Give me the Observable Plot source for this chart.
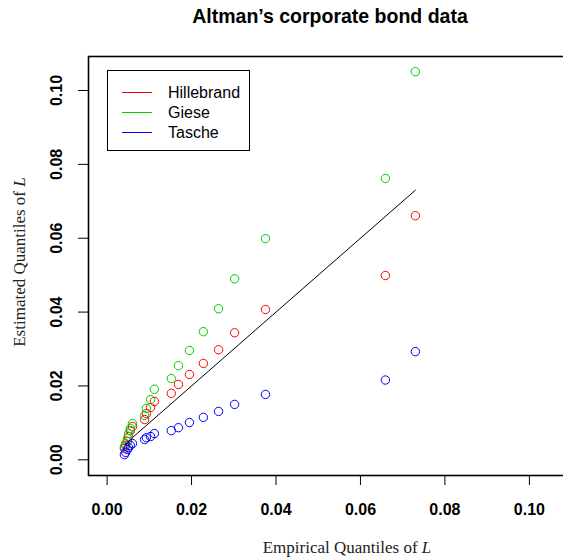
<!DOCTYPE html>
<html><head><meta charset="utf-8">
<script src="https://cdn.jsdelivr.net/npm/d3@7"></script>
<script src="https://cdn.jsdelivr.net/npm/@observablehq/plot@0.6"></script>
<style>
html,body{margin:0;padding:0;background:#fff;overflow:hidden;}
#wrap{position:relative;width:563px;height:559px;overflow:hidden;background:#fff;}
#wrap svg{overflow:hidden !important;display:block;}
.ov{position:absolute;white-space:nowrap;line-height:1;}
</style></head><body>
<div id="wrap"></div>
<script>
// ---- data ----
const empirical  = [0.0041, 0.0044, 0.0048, 0.0051, 0.0055, 0.0060, 0.0089, 0.0093, 0.0103, 0.0112,
                    0.0152, 0.0169, 0.0195, 0.0228, 0.0264, 0.0302, 0.0375, 0.0659, 0.0730];
const hillebrand = [0.0031, 0.0039, 0.0050, 0.0063, 0.0079, 0.0090, 0.0109, 0.0125, 0.0142, 0.0158,
                    0.0180, 0.0204, 0.0231, 0.0261, 0.0298, 0.0344, 0.0407, 0.0499, 0.0661];
const giese      = [0.0036, 0.0044, 0.0058, 0.0071, 0.0085, 0.0098, 0.0120, 0.0139, 0.0163, 0.0191,
                    0.0220, 0.0255, 0.0296, 0.0347, 0.0409, 0.0490, 0.0599, 0.0762, 0.1051];
const tasche     = [0.0014, 0.0020, 0.0028, 0.0033, 0.0039, 0.0044, 0.0055, 0.0060, 0.0063, 0.0071,
                    0.0079, 0.0087, 0.0101, 0.0115, 0.0131, 0.0150, 0.0177, 0.0216, 0.0293];
const seriesNames  = ["Hillebrand", "Giese", "Tasche"];
const seriesColors = ["#FF0000", "#00CD00", "#0000FF"];
const xTicks = [0.00, 0.02, 0.04, 0.06, 0.08, 0.10];
const yTicks = [0.00, 0.02, 0.04, 0.06, 0.08, 0.10];
const titleText = "Altman’s corporate bond data";
const xLabelText = "Empirical Quantiles of ";
const yLabelText = "Estimated Quantiles of ";
const mathVar = "L";

// ---- build ----
const seriesValues = [hillebrand, giese, tasche];
const fmt = d3.format(".2f");
const sans = "'Liberation Sans', Arial, Helvetica, sans-serif";
const serif = "'Liberation Serif', 'Times New Roman', serif";

const dotMarks = seriesValues.map((vals, s) =>
  Plot.dot(empirical.map((x, i) => ({x, y: vals[i]})), {
    x: "x", y: "y", r: 4.2, stroke: seriesColors[s], strokeWidth: 1, fill: "none"
  })
);

const chart = Plot.plot({
  width: 563, height: 559,
  marginLeft: 88, marginRight: -2, marginTop: 56, marginBottom: 84,
  x: {domain: [-0.0044, 0.10855], axis: null},
  y: {domain: [-0.00425, 0.10921], axis: null},
  style: {background: "white", fontFamily: sans, overflow: "hidden"},
  marks: [
    Plot.frame({stroke: "black", strokeWidth: 1.6}),
    Plot.axisX(xTicks, {tickSize: 10, tickPadding: 18, tickFormat: fmt, fontSize: 16,
      fontWeight: "bold", label: null, stroke: "black", fill: "black"}),
    Plot.axisY(yTicks, {tickSize: 10, tickFormat: () => "", label: null, stroke: "black"}),
    Plot.text(yTicks, {y: d => d, frameAnchor: "left", dx: -32, rotate: -90,
      text: d => fmt(d), fontSize: 16, fontWeight: "bold", textAnchor: "middle",
      lineAnchor: "middle", fill: "black"}),
    Plot.line(d3.extent(empirical), {x: d => d, y: d => d, stroke: "black", strokeWidth: 1}),
    ...dotMarks
  ]
});

const wrap = document.getElementById("wrap");
wrap.appendChild(chart);

function addDiv(style, html) {
  const d = document.createElement("div");
  d.className = "ov";
  d.setAttribute("style", style);
  d.innerHTML = html;
  wrap.appendChild(d);
  return d;
}
// title
addDiv(`left:330px;top:5px;transform:translateX(-50%);font:bold 19.5px ${sans};color:#000;`, titleText);
// x label
addDiv(`left:347px;top:538px;transform:translateX(-50%);font:17px ${serif};color:#222;`,
  xLabelText + "<i>" + mathVar + "</i>");
// y label (rotated)
addDiv(`left:20px;top:262px;transform:translate(-50%,-50%) rotate(-90deg);font:17px ${serif};color:#222;`,
  yLabelText + "<i>" + mathVar + "</i>");
// legend
addDiv("left:107px;top:70px;width:143px;height:81px;border:1px solid #000;box-sizing:border-box;", "");
seriesNames.forEach((name, i) => {
  const ly = 92 + i * 20;
  addDiv(`left:122px;top:${ly}px;width:30px;height:0;border-top:1px solid ${seriesColors[i]};`, "");
  addDiv(`left:168px;top:${ly + 5 - 13.5}px;font:16px ${sans};color:#000;`, name);
});
</script>
</body></html>
